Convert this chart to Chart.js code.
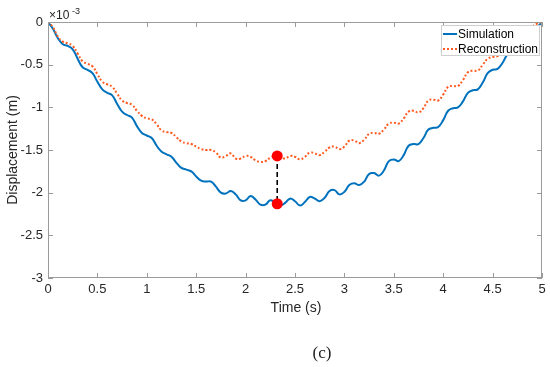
<!DOCTYPE html>
<html>
<head>
<meta charset="utf-8">
<script src="https://cdn.jsdelivr.net/npm/chart.js@4.4.1/dist/chart.umd.min.js"></script>
<style>
    html, body { margin: 0; padding: 0; background: #fff; }
    #wrap { position: relative; width: 550px; height: 367px; }
    #caption {
        position: absolute; left: 302px; top: 343px; width: 40px;
        text-align: center; font-family: "Liberation Serif", "DejaVu Serif", serif;
        font-size: 17px; color: #222;
    }
</style>
</head>
<body>
<div id="wrap">
    <canvas id="chart" width="550" height="367"></canvas>
    <div id="caption">(c)</div>
</div>
<script>
// time axis (s)
const times = [0, 0.05, 0.1, 0.15, 0.2, 0.25, 0.3, 0.35, 0.4, 0.45,
    0.5, 0.55, 0.6, 0.65, 0.7, 0.75, 0.8, 0.85, 0.9, 0.95,
    1, 1.05, 1.1, 1.15, 1.2, 1.25, 1.3, 1.35, 1.4, 1.45,
    1.5, 1.55, 1.6, 1.65, 1.7, 1.75, 1.8, 1.85, 1.9, 1.95,
    2, 2.05, 2.1, 2.15, 2.2, 2.25, 2.3, 2.35, 2.4, 2.45,
    2.5, 2.55, 2.6, 2.65, 2.7, 2.75, 2.8, 2.85, 2.9, 2.95,
    3, 3.05, 3.1, 3.15, 3.2, 3.25, 3.3, 3.35, 3.4, 3.45,
    3.5, 3.55, 3.6, 3.65, 3.7, 3.75, 3.8, 3.85, 3.9, 3.95,
    4, 4.05, 4.1, 4.15, 4.2, 4.25, 4.3, 4.35, 4.4, 4.45,
    4.5, 4.55, 4.6, 4.65, 4.7, 4.75, 4.8, 4.85, 4.9, 4.95, 5];

// displacement, x 10^-3 m
const simulation = [0, -0.08, -0.19, -0.26, -0.28, -0.32, -0.43, -0.53, -0.56, -0.60,
    -0.70, -0.79, -0.83, -0.86, -0.96, -1.05, -1.09, -1.12, -1.22, -1.30,
    -1.33, -1.36, -1.45, -1.52, -1.55, -1.58, -1.65, -1.71, -1.73, -1.75,
    -1.81, -1.86, -1.87, -1.87, -1.93, -2.00, -2.01, -1.98, -2.02, -2.09,
    -2.09, -2.04, -2.08, -2.14, -2.14, -2.09, -2.12, -2.15, -2.12, -2.07,
    -2.10, -2.15, -2.11, -2.05, -2.07, -2.10, -2.06, -1.98, -1.97, -2.02,
    -1.99, -1.91, -1.89, -1.91, -1.87, -1.78, -1.77, -1.80, -1.74, -1.63,
    -1.61, -1.63, -1.56, -1.45, -1.43, -1.43, -1.36, -1.26, -1.24, -1.23,
    -1.15, -1.04, -1.01, -1.00, -0.93, -0.83, -0.80, -0.79, -0.71, -0.60,
    -0.56, -0.55, -0.48, -0.38, -0.33, -0.31, -0.23, -0.13, -0.09, -0.06, 0];

const reconstruction = [0, -0.06, -0.17, -0.23, -0.25, -0.28, -0.37, -0.46, -0.49, -0.52,
    -0.61, -0.70, -0.73, -0.76, -0.84, -0.92, -0.95, -0.97, -1.04, -1.10,
    -1.13, -1.14, -1.20, -1.27, -1.29, -1.30, -1.35, -1.40, -1.42, -1.43,
    -1.46, -1.49, -1.50, -1.50, -1.53, -1.59, -1.57, -1.54, -1.60, -1.60,
    -1.57, -1.58, -1.62, -1.64, -1.63, -1.59, -1.57, -1.58, -1.60, -1.57,
    -1.58, -1.61, -1.58, -1.53, -1.54, -1.56, -1.52, -1.47, -1.46, -1.49,
    -1.46, -1.39, -1.39, -1.42, -1.38, -1.31, -1.30, -1.31, -1.26, -1.19,
    -1.18, -1.19, -1.13, -1.05, -1.04, -1.06, -1.01, -0.92, -0.91, -0.92,
    -0.85, -0.76, -0.75, -0.75, -0.68, -0.59, -0.57, -0.57, -0.50, -0.43,
    -0.41, -0.40, -0.35, -0.27, -0.22, -0.20, -0.15, -0.09, -0.05, -0.02, 0];

// red markers with the dashed gap line
const markerTimes = [2.32, 2.32];
const markerValues = [-1.57, -2.13];

const seriesNames = ['Simulation', 'Reconstruction'];
const xTicks = [0, 0.5, 1, 1.5, 2, 2.5, 3, 3.5, 4, 4.5, 5];
const yTicks = [-3, -2.5, -2, -1.5, -1, -0.5, 0];

const BLUE = '#0072bd';
const ORANGE = '#ff5a1f';
const AXIS = '#9b9b9b';
const TEXT = '#262626';
const FONT = '"Liberation Sans", Arial, sans-serif';

function toPoints(xs, ys) {
    return xs.map((x, i) => ({ x, y: ys[i] }));
}

const matlabFrame = {
    id: 'matlabFrame',
    afterDatasetsDraw(chart) {
        const { ctx, chartArea: a, scales } = chart;
        const x = scales.x, y = scales.y;
        ctx.save();

        // box + inward ticks
        ctx.strokeStyle = AXIS;
        ctx.lineWidth = 1;
        ctx.strokeRect(a.left + 0.5, a.top + 0.5, a.right - a.left - 1, a.bottom - a.top - 1);
        ctx.beginPath();
        xTicks.forEach(v => {
            const px = Math.round(x.getPixelForValue(v)) + 0.5;
            ctx.moveTo(px, a.bottom); ctx.lineTo(px, a.bottom - 5);
            ctx.moveTo(px, a.top); ctx.lineTo(px, a.top + 5);
        });
        yTicks.forEach(v => {
            const py = Math.round(y.getPixelForValue(v)) + 0.5;
            ctx.moveTo(a.left, py); ctx.lineTo(a.left + 5, py);
            ctx.moveTo(a.right, py); ctx.lineTo(a.right - 5, py);
        });
        ctx.stroke();

        // axis titles
        ctx.fillStyle = TEXT;
        ctx.font = '14px ' + FONT;
        ctx.textAlign = 'center';
        ctx.textBaseline = 'middle';
        ctx.fillText('Time (s)', 296, 308);
        ctx.save();
        ctx.translate(13, (a.top + a.bottom) / 2);
        ctx.rotate(-Math.PI / 2);
        ctx.fillText('Displacement (m)', 0, 0);
        ctx.restore();

        // exponent label
        ctx.textAlign = 'left';
        ctx.textBaseline = 'alphabetic';
        ctx.font = '12px ' + FONT;
        ctx.fillText('\u00d710', 49, 19);
        ctx.font = '9px ' + FONT;
        ctx.fillText('-3', 72, 14);

        // legend inside the axes
        const lx = 441, ly = 25, lw = 99, lh = 31;
        ctx.fillStyle = '#fff';
        ctx.fillRect(lx, ly, lw, lh);
        ctx.strokeStyle = '#cfcfcf';
        ctx.strokeRect(lx + 0.5, ly + 0.5, lw - 1, lh - 1);
        const rows = [
            { y: 34, color: BLUE, dash: [] },
            { y: 49, color: ORANGE, dash: [2, 2] }
        ];
        rows.forEach((r, i) => {
            ctx.beginPath();
            ctx.setLineDash(r.dash);
            ctx.strokeStyle = r.color;
            ctx.lineWidth = 2;
            ctx.moveTo(443, r.y); ctx.lineTo(457, r.y);
            ctx.stroke();
            ctx.setLineDash([]);
            ctx.fillStyle = '#000';
            ctx.font = '12px ' + FONT;
            ctx.textBaseline = 'middle';
            ctx.fillText(seriesNames[i], 458, r.y + 0.5);
        });
        ctx.restore();
    }
};

new Chart(document.getElementById('chart'), {
    type: 'line',
    data: {
        datasets: [
            {
                label: 'gap',
                data: toPoints(markerTimes, markerValues),
                borderColor: '#000',
                borderWidth: 1.6,
                borderDash: [5, 3],
                pointRadius: 5.5,
                pointBackgroundColor: '#ff0000',
                pointBorderColor: '#ff0000',
                pointBorderWidth: 0,
                order: 0
            },
            {
                label: seriesNames[0],
                data: toPoints(times, simulation),
                borderColor: BLUE,
                borderWidth: 2,
                pointRadius: 0,
                tension: 0.45,
                order: 2
            },
            {
                label: seriesNames[1],
                data: toPoints(times, reconstruction),
                borderColor: ORANGE,
                borderWidth: 2,
                borderDash: [2, 2],
                pointRadius: 0,
                tension: 0.45,
                order: 1
            }
        ]
    },
    options: {
        responsive: false,
        animation: false,
        devicePixelRatio: 1,
        layout: { padding: { top: 22, right: 8, left: 0, bottom: 0 } },
        plugins: { legend: { display: false }, tooltip: { enabled: false } },
        scales: {
            x: {
                type: 'linear',
                min: 0,
                max: 5,
                afterBuildTicks: s => { s.ticks = xTicks.map(v => ({ value: v })); },
                afterFit: s => { s.height = 89; },
                grid: { drawOnChartArea: false, drawTicks: false },
                border: { display: false },
                ticks: {
                    padding: 4,
                    color: TEXT,
                    font: { family: FONT, size: 13 },
                    maxRotation: 0,
                    autoSkip: false,
                    callback: v => String(v)
                }
            },
            y: {
                min: -3,
                max: 0,
                afterBuildTicks: s => { s.ticks = yTicks.map(v => ({ value: v })); },
                afterFit: s => { s.width = 48; },
                grid: { drawOnChartArea: false, drawTicks: false },
                border: { display: false },
                ticks: {
                    padding: 5,
                    color: TEXT,
                    font: { family: FONT, size: 13 },
                    autoSkip: false,
                    callback: v => String(v)
                }
            }
        }
    },
    plugins: [matlabFrame]
});
</script>
</body>
</html>
